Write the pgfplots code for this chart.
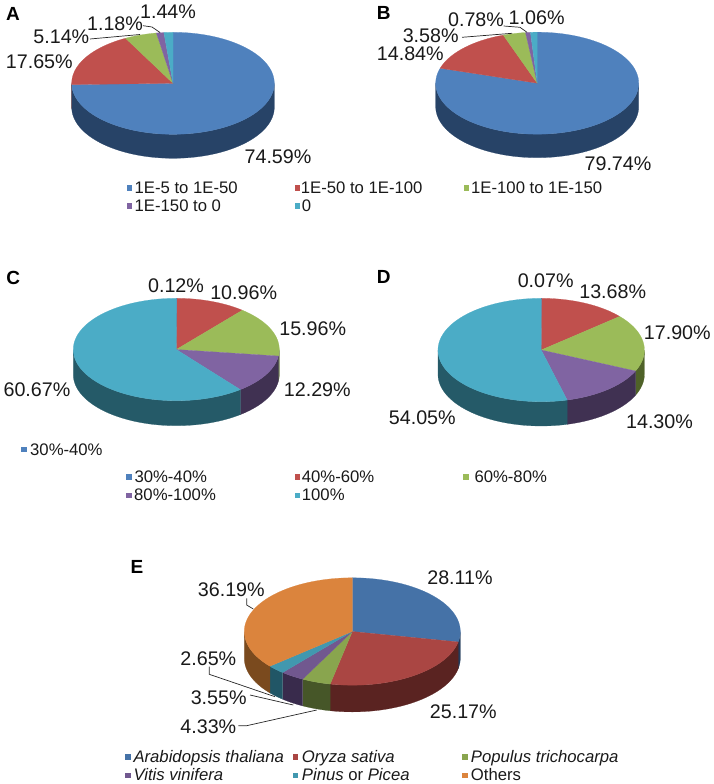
\documentclass[border=0pt]{standalone}
\usepackage{fontspec}
\setmainfont{Liberation Sans}
\usepackage{pgfplots}
\pgfplotsset{compat=1.18}
\definecolor{pB}{HTML}{4F81BD}\definecolor{sB}{HTML}{274367}
\definecolor{pR}{HTML}{C0504D}\definecolor{sR}{HTML}{632523}
\definecolor{pG}{HTML}{9BBB59}\definecolor{sG}{HTML}{4F6228}
\definecolor{pP}{HTML}{8064A2}\definecolor{sP}{HTML}{403152}
\definecolor{pT}{HTML}{4BACC6}\definecolor{sT}{HTML}{255A68}
\definecolor{eB}{HTML}{4572A7}\definecolor{fB}{HTML}{233C5C}
\definecolor{eR}{HTML}{AA4643}\definecolor{fR}{HTML}{5A2321}
\definecolor{eG}{HTML}{89A54E}\definecolor{fG}{HTML}{465628}
\definecolor{eP}{HTML}{71588F}\definecolor{fP}{HTML}{392B4C}
\definecolor{eT}{HTML}{4198AF}\definecolor{fT}{HTML}{215666}
\definecolor{eO}{HTML}{DB843D}\definecolor{fO}{HTML}{7A4A1E}
\newcount\arcI
\newcommand\addarc[7]{%
  \pgfmathtruncatemacro\arcN{max(2,ceil(abs(#2-#1)/2))}%
  \pgfmathtruncatemacro\arcM{\arcN+1}%
  \arcI=0
  \loop
    \pgfmathsetmacro\arcF{\the\arcI/\arcN}%
    \pgfmathsetmacro\arcT{#1+(#2-#1)*\arcF}%
    \pgfmathsetmacro\arcX{#3+#5*sin(\arcT)}%
    \pgfmathsetmacro\arcY{#4-#6*cos(\arcT)+#7}%
    \xdef\pts{\pts (\arcX,\arcY)}%
    \advance\arcI by 1
  \ifnum\arcI<\arcM\repeat
}
% #1 cx, #2 cy, #3 rx, #4 ry, #5 depth, #6 list value/top colour/side colour
\newcommand\drawpie[6]{%
  \gdef\cum{0}%
  \foreach \v/\ctop/\cside in {#6}{%
    \pgfmathsetmacro\angA{\cum*3.6}%
    \pgfmathsetmacro\angB{(\cum+\v)*3.6}%
    \pgfmathsetmacro\sideA{max(\angA,90)}%
    \pgfmathsetmacro\sideB{min(\angB,270)}%
    \pgfmathtruncatemacro\hasSide{\sideB>\sideA ? 1 : 0}%
    \ifnum\hasSide=1
      \gdef\pts{}%
      \addarc{\sideA}{\sideB}{#1}{#2}{#3}{#4}{0}%
      \addarc{\sideB}{\sideA}{#1}{#2}{#3}{#4}{#5}%
      \addarc{\sideA}{\sideA}{#1}{#2}{#3}{#4}{0}%
      \edef\cmd{\noexpand\addplot[fill=\cside,draw=\cside,line width=0.2pt,mark=none] coordinates {\pts};}\cmd
    \fi
    \xdef\pts{(#1,#2)}%
    \addarc{\angA}{\angB}{#1}{#2}{#3}{#4}{0}%
    \xdef\pts{\pts (#1,#2)}%
    \edef\cmd{\noexpand\addplot[fill=\ctop,draw=\ctop,line width=0.2pt,mark=none] coordinates {\pts};}\cmd
    \pgfmathsetmacro\newcum{\cum+\v}%
    \xdef\cum{\newcum}%
  }%
}
\newcommand\lab[3]{\node[anchor=base,inner sep=0pt,yshift=-7pt,font=\fontsize{19.7}{22}\selectfont,text=black!90] at (axis cs:#1,#2) {#3};}
\newcommand\panel[3]{\node[anchor=base,inner sep=0pt,yshift=-6.5pt,font=\fontsize{19}{22}\selectfont\bfseries] at (axis cs:#1,#2) {#3};}
\newcommand\leg[5]{%
  \addplot[only marks,mark=square*,mark size=2.2pt,mark options={fill=#3,draw=#3}] coordinates {(#1,#2)};
  \node[anchor=base west,inner sep=0pt,yshift=-5.8pt,font=\fontsize{16.7}{20}\selectfont,text=black!90] at (axis cs:#4,#2) {#5};}
\newcommand\lead[1]{\addplot[black!85,line width=0.7pt,mark=none] coordinates {#1};}
\begin{document}
\begin{tikzpicture}
\path[use as bounding box] (0,0) rectangle (714pt,784pt);
\begin{axis}[at={(0,0)},anchor=south west,scale only axis,width=714pt,height=784pt,
  xmin=0,xmax=714,ymin=0,ymax=784,y dir=reverse,hide axis,clip=false]
% A
\drawpie{173}{83.3}{101.3}{51}{24}{74.59/pB/sB,17.65/pR/sR,5.14/pG/sG,1.18/pP/sP,1.44/pT/sT}
\lead{(90,39) (140,34.5)}
\lead{(143,25.7) (152,27) (160,32.5)}
\lab{168}{12}{1.44\%}\lab{115}{24}{1.18\%}\lab{61.3}{37}{5.14\%}\lab{39.3}{62}{17.65\%}\lab{278}{156}{74.59\%}
\panel{13}{14}{A}
\leg{129}{187.5}{pB}{134.5}{1E-5 to 1E-50}
\leg{297}{187.5}{pR}{300.7}{1E-50 to 1E-100}
\leg{466}{187.5}{pG}{471}{1E-100 to 1E-150}
\leg{129}{205.7}{pP}{134.5}{1E-150 to 0}
\leg{297}{205.7}{pT}{301.7}{0}
% B
\drawpie{537.2}{83.2}{101.5}{51}{23.5}{79.74/pB/sB,14.84/pR/sR,3.58/pG/sG,0.78/pP/sP,1.06/pT/sT}
\lead{(462,37.3) (512,33.3)}
\lead{(503.7,26) (520,27.3) (527,32.3)}
\lab{536.6}{18}{1.06\%}\lab{476}{20}{0.78\%}\lab{430.7}{36}{3.58\%}\lab{410.3}{54}{14.84\%}\lab{618}{163}{79.74\%}
\panel{383.7}{12.7}{B}
% C
\drawpie{176.3}{349.5}{103}{51.2}{25}{0.12/pB/sB,10.96/pR/sR,15.96/pG/sG,12.29/pP/sP,60.67/pT/sT}
\lab{176}{285}{0.12\%}\lab{243.7}{292.3}{10.96\%}\lab{312.7}{328.3}{15.96\%}\lab{317.3}{389.3}{12.29\%}\lab{37}{389.3}{60.67\%}
\panel{13.3}{278.3}{C}
\leg{23.7}{449.3}{pB}{30}{30\%-40\%}
\leg{128.7}{476.7}{pB}{134.3}{30\%-40\%}
\leg{297}{476.7}{pR}{301.7}{40\%-60\%}
\leg{465.8}{476.7}{pG}{474.3}{60\%-80\%}
\leg{128.7}{495}{pP}{134}{80\%-100\%}
\leg{297}{495}{pT}{301.7}{100\%}
% D
\drawpie{541.2}{350}{103.2}{51.7}{24.3}{0.07/pB/sB,13.68/pR/sR,17.90/pG/sG,14.30/pP/sP,54.05/pT/sT}
\lab{545.7}{280.7}{0.07\%}\lab{612.7}{291.7}{13.68\%}\lab{677.3}{332.3}{17.90\%}\lab{659.5}{421.7}{14.30\%}\lab{422.3}{417.3}{54.05\%}
\panel{383.7}{277.3}{D}
% E
\drawpie{352.3}{631.5}{108}{53.7}{26.7}{28.11/eB/fB,25.17/eR/fR,4.33/eG/fG,3.55/eP/fP,2.65/eT/fT,36.19/eO/fO}
\lead{(246.7,598.3) (246.7,605) (253.3,609)}
\lead{(209.3,666.7) (209.3,674.3) (275,696.7)}
\lead{(250,695) (293.3,705)}
\lead{(238.3,725.7) (246.7,725.7) (316.7,710)}
\lab{460}{577.3}{28.11\%}\lab{463.3}{711}{25.17\%}\lab{231.3}{589.3}{36.19\%}\lab{208.3}{658.3}{2.65\%}\lab{218.7}{697.7}{3.55\%}\lab{208.3}{726.7}{4.33\%}
\panel{137}{567.3}{E}
\leg{127.5}{756.7}{eB}{133.3}{\textit{Arabidopsis thaliana}}
\leg{295}{756.7}{eR}{301.7}{\textit{Oryza sativa}}
\leg{464.5}{756.7}{eG}{470.7}{\textit{Populus trichocarpa}}
\leg{127.5}{775}{eP}{133.3}{\textit{Vitis vinifera}}
\leg{295}{775}{eT}{301.7}{\textit{Pinus} or \textit{Picea}}
\leg{464.5}{775}{eO}{470.7}{Others}
\end{axis}
\end{tikzpicture}
\end{document}
